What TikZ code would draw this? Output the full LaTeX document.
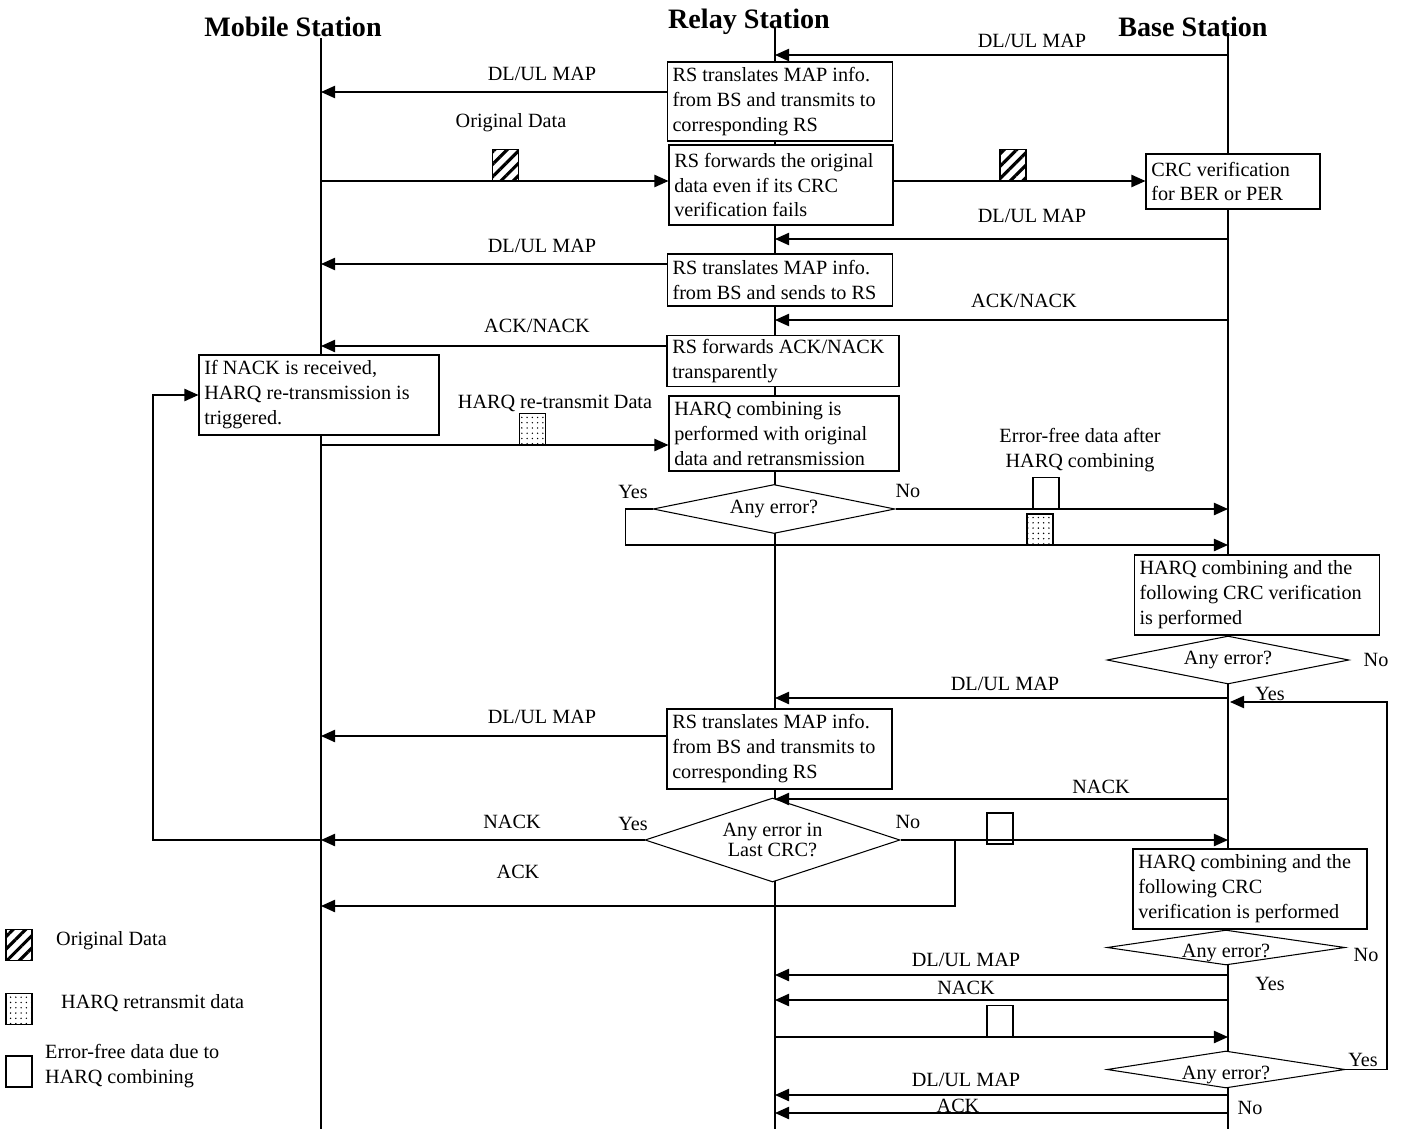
\documentclass[tikz,border=0pt]{standalone}
\usepackage{fontspec}
\setmainfont{Liberation Serif}
\usetikzlibrary{arrows.meta,shapes.geometric,patterns.meta}

\tikzset{
  life/.style={line width=1.6pt},
  msg/.style={line width=0.8pt,-{Triangle[length=8pt,width=7pt]}},
  box/.style={draw,fill=white,line width=0.6pt,align=flush left,inner xsep=3pt,inner ysep=2pt},
  decide/.style={diamond,draw,fill=white,line width=0.6pt,inner sep=0pt},
  title/.style={font=\bfseries\fontsize{16}{19}\selectfont},
  packet/.style={draw,line width=0.6pt,minimum width=0.52cm,minimum height=0.62cm,inner sep=0pt},
  orig/.style={packet,pattern={Lines[angle=45,distance=5pt,line width=1.8pt]}},
  retx/.style={packet,pattern={Dots[distance=3pt,radius=0.45pt]}},
  free/.style={packet}
}

\begin{document}
\begin{tikzpicture}[x=0.02cm,y=-0.02cm,font=\fontsize{11.5}{14.2}\selectfont]
  \useasboundingbox (0,0) rectangle (1404,1129);

  % stations and lifelines
  \node[title] (ms) at (293,27) {Mobile Station};
  \node[title] (rs) at (749,22) {Relay Station};
  \node[title] (bs) at (1193,27) {Base Station};
  \coordinate (msl) at (321,38);
  \coordinate (rsl) at (775,28);
  \coordinate (bsl) at (1228,33);
  \coordinate (bot) at (0,1129);
  \draw[life] (msl) -- (msl |- bot);
  \draw[life] (rsl) -- (rsl |- bot);
  \draw[life] (bsl) -- (bsl |- bot);

  % boxes
  \node[box,text width=4.3cm,minimum height=1.58cm] (rsa) at (780,101.5) {RS translates MAP info.\\from BS and transmits to\\corresponding RS};
  \node[box,text width=4.27cm,minimum height=1.6cm] (rsb) at (781,185) {RS forwards the original\\data even if its CRC\\verification fails};
  \node[box,text width=4.3cm,minimum height=1.04cm] (rsc) at (780,280) {RS translates MAP info.\\from BS and sends to RS};
  \node[box,text width=4.43cm,minimum height=0.96cm] (rsd) at (783,361) {RS forwards ACK/NACK\\transparently};
  \node[box,text width=4.39cm,minimum height=1.5cm] (rse) at (784,433.5) {HARQ combining is\\performed with original\\data and retransmission};
  \node[box,text width=4.29cm,minimum height=1.6cm] (rsf) at (779.5,749) {RS translates MAP info.\\from BS and transmits to\\corresponding RS};
  \node[box,text width=3.27cm,minimum height=1.1cm] (bsa) at (1233,181.5) {CRC verification\\for BER or PER};
  \node[box,text width=4.7cm,minimum height=1.6cm] (bsb) at (1257,595) {HARQ combining and the\\following CRC verification\\is performed};
  \node[box,text width=4.47cm,minimum height=1.6cm] (bsc) at (1250,889) {HARQ combining and the\\following CRC\\verification is performed};
  \node[box,text width=4.59cm,minimum height=1.6cm] (msa) at (319,395) {If NACK is received,\\HARQ re-transmission is\\triggered.};

  % decisions
  \node[decide,minimum width=4.84cm,minimum height=0.98cm,label=center:Any error?] (dA) at (774,509) {};
  \node[decide,minimum width=4.84cm,minimum height=0.96cm,label=center:Any error?] (dB) at (1228,660) {};
  \node[decide,minimum width=5.1cm,minimum height=1.68cm,
        label={[align=center,font=\fontsize{11.5}{11}\selectfont]center:Any error in\\Last CRC?}] (dC) at (772.5,840) {};
  \node[decide,minimum width=4.76cm,minimum height=0.7cm,label={[yshift=-0.1cm]center:Any error?}] (dD) at (1226,947.5) {};
  \node[decide,minimum width=4.76cm,minimum height=0.74cm,label={[yshift=-0.1cm]center:Any error?}] (dE) at (1226,1069.5) {};

  % BS -> RS
  \foreach \y/\lx/\ly/\txt in {55/1032/41/{DL/UL MAP}, 239/1032/216/{DL/UL MAP},
      320/1024/301/{ACK/NACK}, 698/1005/684/{DL/UL MAP}, 799/1101/787/{NACK},
      975/966/960/{DL/UL MAP}, 1000/966/988/{NACK}, 1095/966/1080/{DL/UL MAP},
      1113/958/1106/{ACK}}
  {
    \coordinate (b\y) at (1228,\y);
    \draw[msg] (b\y) -- (rsl |- b\y);
    \node (bt\y) at (\lx,\ly) {\txt};
  }

  % RS -> MS
  \foreach \b/\y/\lx/\ly/\txt in {rsa/92/542/74/{DL/UL MAP}, rsc/264/542/246/{DL/UL MAP},
      rsd/346/537/326/{ACK/NACK}, rsf/736/542/717/{DL/UL MAP}}
  {
    \coordinate (\b-in) at (321,\y);
    \draw[msg] (\b.west |- \b-in) -- (\b-in);
    \node (\b-txt) at (\lx,\ly) {\txt};
  }

  % original data
  \coordinate (od) at (321,181);
  \draw[msg] (od) -- (rsb.west |- od);
  \draw[msg] (rsb.east |- od) -- (bsa.west |- od);
  \node[orig] (d1) at (505.5,165) {};
  \node[orig] (d2) at (1013,165) {};
  \node (odt) at (511,123) {Original Data};

  % retransmission
  \coordinate (hr) at (321,445);
  \draw[msg] (hr) -- (rse.west |- hr);
  \node[retx] (d3) at (532.5,429) {};
  \node (hrt) at (555,403) {HARQ re-transmit Data};

  % first decision at RS
  \coordinate (ya) at (1228,545);
  \draw[msg] (dA.east) -- (bsl |- dA.east);
  \draw[msg] (dA.west) -- ++(-27,0) |- (ya);
  \node[free] (d5) at (1046,493) {};
  \node[retx] (d4) at (1040,529.5) {};
  \node[align=center] (eft) at (1080,450) {Error-free data after\\HARQ combining};
  \node (ya1) at (633,492) {Yes};
  \node (na1) at (908,491) {No};

  % decision at BS
  \node (nb) at (1376,660) {No};
  \node (yb) at (1270,694) {Yes};

  % last CRC decision
  \coordinate (ak) at (955,840);
  \coordinate (akin) at (321,906);
  \draw[msg] (dC.west) -- (msl |- dC.west);
  \draw[msg] (msl |- dC.west) -- ++(-168,0) |- (msa.west);
  \draw[msg] (dC.east) -- (bsl |- dC.east);
  \draw[msg] (ak) |- (akin);
  \node[free] (d6) at (1000,828.5) {};
  \node (nkt) at (512,822) {NACK};
  \node (akt) at (518,872) {ACK};
  \node (yc) at (633,824) {Yes};
  \node (nc) at (908,822) {No};

  % second round
  \coordinate (rt) at (775,1037);
  \draw[msg] (rt) -- (bsl |- rt);
  \node[free] (d7) at (1000,1021) {};
  \node (nd) at (1366,955) {No};
  \node (yd) at (1270,984) {Yes};
  \coordinate (ye) at (1230,702);
  \draw[msg] (dE.east) -- (1387,1069.5) |- (ye);
  \node (yet) at (1363,1060) {Yes};
  \node (net) at (1250,1108) {No};

  % legend
  \node[orig] (k1) at (19,945) {};
  \node[anchor=west] (k1t) at (50,941) {Original Data};
  \node[retx] (k2) at (19,1009) {};
  \node[anchor=west] (k2t) at (55,1003) {HARQ retransmit data};
  \node[free] (k3) at (19,1071.5) {};
  \node[anchor=west,align=left] (k3t) at (39,1066) {Error-free data due to\\HARQ combining};
\end{tikzpicture}
\end{document}
